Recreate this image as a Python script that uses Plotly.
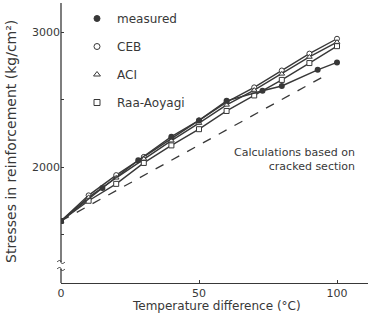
import plotly.graph_objects as go

temp = [0, 10, 20, 30, 40, 50, 60, 70, 80, 90, 100]
ceb = [1600, 1790, 1940, 2075, 2215, 2345, 2480, 2590, 2715, 2840, 2950]
aci = [1600, 1775, 1920, 2060, 2195, 2325, 2460, 2570, 2690, 2815, 2925]
raa = [1600, 1750, 1875, 2030, 2160, 2280, 2415, 2530, 2645, 2770, 2895]

meas_t = [0, 15, 28, 40, 50, 60, 73, 80, 93, 100]
meas = [1600, 1845, 2050, 2225, 2345, 2490, 2565, 2600, 2720, 2775]

crack_t = [0, 96]
crack = [1600, 2680]

ytick_vals = [1500, 2000, 2500, 3000]
ytick_text = ["", "2000", "", "3000"]
xtick_vals = [0, 50, 100]
xtick_text = ["0", "50", "100"]

INK = "#383838"
FONT = "DejaVu Sans"

fig = go.Figure()

fig.add_trace(go.Scatter(x=crack_t, y=crack, mode="lines",
                         line=dict(color=INK, width=1.3, dash="dash"),
                         showlegend=False, hoverinfo="skip"))

series = [
    ("CEB", ceb, "circle"),
    ("ACI", aci, "triangle-up"),
    ("Raa-Aoyagi", raa, "square"),
]
for name, vals, sym in series:
    fig.add_trace(go.Scatter(x=temp, y=vals, mode="lines+markers", name=name,
                             line=dict(color=INK, width=1.4),
                             marker=dict(symbol=sym, size=5,
                                         color="white", line=dict(color=INK, width=1)),
                             showlegend=False))

fig.add_trace(go.Scatter(x=meas_t, y=meas, mode="lines+markers", name="measured",
                         line=dict(color=INK, width=1.4),
                         marker=dict(symbol="circle", size=6, color=INK),
                         showlegend=False))

# legend entries (markers only)
leg = [("measured", "circle", INK), ("CEB", "circle-open", INK),
       ("ACI", "triangle-up-open", INK), ("Raa-Aoyagi", "square-open", INK)]
for i, (name, sym, col) in enumerate(leg):
    fig.add_trace(go.Scatter(x=[None], y=[None], mode="markers", name=name,
                             legendgroup=str(i),
                             marker=dict(symbol=sym, size=6, color=col,
                                         line=dict(color=col, width=1))))

L, B, T = 61, 283, 3
W, H = 371, 317
pw = W - L - 3
ph = B - T

def px(xp):
    return (xp - L) / pw

def py(yp):
    return (B - yp) / ph

shapes = [
    # y axis line with break
    dict(type="line", xref="paper", yref="paper", x0=0, x1=0, y0=py(3), y1=py(262),
         line=dict(color=INK, width=1.3)),
    dict(type="line", xref="paper", yref="paper", x0=0, x1=0, y0=py(269), y1=py(283),
         line=dict(color=INK, width=1.3)),
]
for yb in (262, 269):
    x0, x1 = px(57), px(65)
    y0 = py(yb)
    d = py(yb - 2) - y0
    path = (f"M {x0},{y0} C {px(59)},{y0 + d} {px(61)},{y0 + d} {px(61)},{y0} "
            f"C {px(61)},{y0 - d} {px(63)},{y0 - d} {x1},{y0}")
    shapes.append(dict(type="path", xref="paper", yref="paper", path=path,
                       line=dict(color=INK, width=1)))

fig.update_layout(
    width=W, height=H,
    margin=dict(l=L, r=3, t=T, b=H - B),
    paper_bgcolor="white", plot_bgcolor="white",
    font=dict(family=FONT, color=INK, size=11),
    xaxis=dict(range=[0, (W - 3 - L) / 2.76], tickvals=xtick_vals, ticktext=xtick_text,
               showgrid=False, zeroline=False, showline=True, linecolor=INK, linewidth=1.3,
               ticks="inside", ticklen=3, tickcolor=INK, tickfont=dict(size=11)),
    yaxis=dict(range=[2000 - (B - 167) / 0.135, 2000 + (167 - T) / 0.135],
               tickvals=ytick_vals, ticktext=ytick_text,
               showgrid=False, zeroline=False, showline=False,
               ticks="inside", ticklen=3, tickcolor=INK, tickfont=dict(size=11)),
    showlegend=True,
    legend=dict(x=px(77), y=py(4), xanchor="left", yanchor="top",
                bgcolor="rgba(0,0,0,0)", font=dict(size=12, color=INK),
                tracegroupgap=9, itemwidth=30),
    shapes=shapes,
    annotations=[
        dict(text="Stresses in reinforcement (kg/cm²)", xref="paper", yref="paper",
             x=px(11), y=py(142), textangle=-90, showarrow=False,
             xanchor="center", yanchor="middle", font=dict(size=14, color=INK)),
        dict(text="Temperature difference (°C)", xref="paper", yref="paper",
             x=px(216), y=py(306), showarrow=False,
             xanchor="center", yanchor="middle", font=dict(size=12, color=INK)),
        dict(text="Calculations based on<br>cracked section", xref="paper", yref="paper",
             x=px(357), y=py(159), showarrow=False, align="right",
             xanchor="right", yanchor="middle", font=dict(size=11, color=INK)),
    ],
)

fig.write_html("out.html", config={"displayModeBar": False},
               post_script="document.body.style.margin='0';")
